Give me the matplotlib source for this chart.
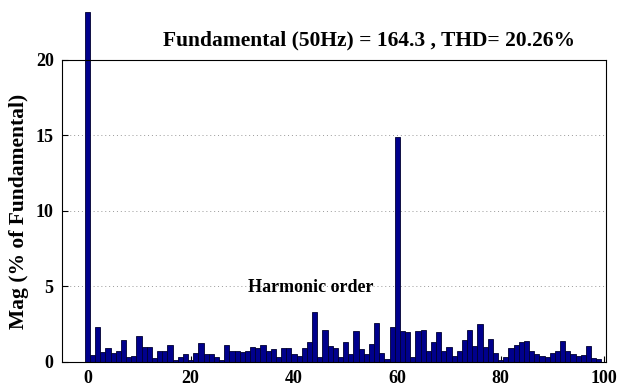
import matplotlib
matplotlib.use("Agg")
from matplotlib import pyplot as plt

# harmonic spectrum, % of fundamental (bar 0 runs off the top of the axes)
orders = list(range(0, 100))
mags = [23.2,
        0.45, 2.3, 0.65, 0.9, 0.6, 0.7, 1.45, 0.35, 0.4, 1.75,
        1.0, 1.0, 0.25, 0.75, 0.75, 1.1, 0.15, 0.3, 0.5, 0.15,
        0.6, 1.25, 0.5, 0.5, 0.35, 0.15, 1.1, 0.75, 0.75, 0.65,
        0.7, 1.0, 0.95, 1.1, 0.75, 0.85, 0.3, 0.9, 0.9, 0.55,
        0.4, 0.9, 1.35, 3.3, 0.3, 2.1, 1.05, 0.9, 0.3, 1.3,
        0.55, 2.05, 0.85, 0.55, 1.2, 2.6, 0.6, 0.2, 2.3, 14.9,
        2.05, 2.0, 0.3, 2.05, 2.15, 0.75, 1.35, 2.0, 0.7, 1.0,
        0.4, 0.75, 1.45, 2.15, 1.05, 2.5, 1.0, 1.55, 0.6, 0.15,
        0.3, 0.9, 1.1, 1.3, 1.4, 0.75, 0.55, 0.4, 0.35, 0.6,
        0.75, 1.4, 0.7, 0.55, 0.4, 0.45, 1.05, 0.25, 0.2]

xticks = [0, 20, 40, 60, 80, 100]
yticks = [0, 5, 10, 15, 20]
title = "Fundamental (50Hz) = 164.3 , THD= 20.26%"

plt.rcParams['font.family'] = ['Liberation Serif', 'DejaVu Serif']
plt.rcParams['font.weight'] = 'bold'

fig = plt.figure(figsize=(6.25, 3.86), dpi=100)
ax = fig.add_axes([0.0992, 0.0622, 0.8704, 0.7824])

bars = ax.bar(orders, mags, width=1.0, color='#00008C', edgecolor='#000030', linewidth=0.6)
bars[0].set_clip_on(False)

ax.set_xlim(-4.9, 100.4)
ax.set_ylim(0, 20)
ax.set_xticks(xticks)
ax.set_yticks(yticks)
ax.tick_params(direction='in', length=4, labelsize=13, pad=6)
for lab in ax.get_xticklabels() + ax.get_yticklabels():
    lab.set_fontweight('bold')
ax.yaxis.grid(True, linestyle=(0, (1, 3)), color='#999999', linewidth=0.7)
ax.set_axisbelow(True)
for s in ax.spines.values():
    s.set_linewidth(0.8)

ax.set_ylabel("Mag (% of Fundamental)", fontsize=15.5, fontweight='bold', labelpad=5)
ax.text(43.3, 4.9, "Harmonic order", ha='center', va='center', fontsize=13, fontweight='bold')
fig.text(369 / 625, 1 - 40 / 386, title, ha='center', va='center', fontsize=15.5, fontweight='bold')

fig.savefig("out.png", dpi=100)
